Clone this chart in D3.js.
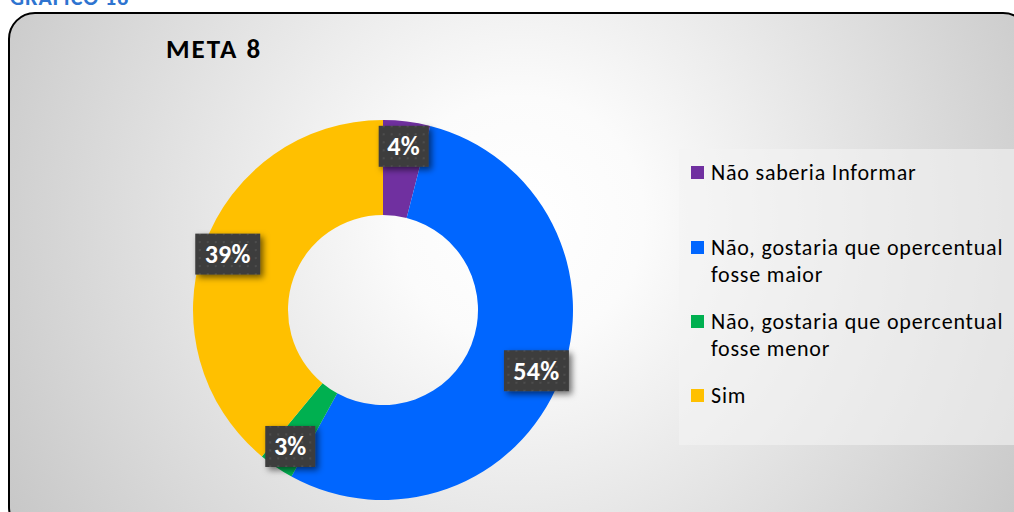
<!DOCTYPE html>
<html><head><meta charset="utf-8">
<script src="https://cdn.jsdelivr.net/npm/d3@7"></script>
<style>body{margin:0;background:#fff;}svg{display:block;}</style>
</head><body>
<svg id="c" width="1014" height="512"></svg>
<script>
const categories = ["Não saberia Informar", "Não, gostaria que opercentual fosse maior", "Não, gostaria que opercentual fosse menor", "Sim"];
const values = [4, 54, 3, 39];
const colors = ["#7030a0", "#0066ff", "#00b050", "#ffc000"];
const legendLines = [["Não saberia Informar"], ["Não, gostaria que opercentual", "fosse maior"], ["Não, gostaria que opercentual", "fosse menor"], ["Sim"]];
const title = "META 8";
const caption = "GRÁFICO 18";

const FONT = "Carlito, Calibri, Lato, 'Open Sans', sans-serif";
const svg = d3.select("#c");
const defs = svg.append("defs");

const rg = defs.append("radialGradient").attr("id", "bg").attr("gradientUnits", "userSpaceOnUse")
  .attr("cx", 520).attr("cy", 220).attr("r", 620);
rg.append("stop").attr("offset", "0").attr("stop-color", "#ffffff");
rg.append("stop").attr("offset", "0.2").attr("stop-color", "#fbfbfb");
rg.append("stop").attr("offset", "1").attr("stop-color", "#c4c4c4");

const sh = defs.append("filter").attr("id", "sh").attr("x", "-30%").attr("y", "-30%").attr("width", "170%").attr("height", "170%");
sh.append("feDropShadow").attr("dx", 3).attr("dy", 3).attr("stdDeviation", 3).attr("flood-color", "#000").attr("flood-opacity", 0.55);

const pat = defs.append("pattern").attr("id", "dots").attr("patternUnits", "userSpaceOnUse").attr("width", 8).attr("height", 8);
pat.append("rect").attr("width", 8).attr("height", 8).attr("fill", "#3d3d3d");
pat.append("rect").attr("x", 3).attr("y", 3).attr("width", 2).attr("height", 2).attr("fill", "#4e4e4e");

// caption (cut at top, as in the reference)
svg.append("text").attr("x", 10).attr("y", 5).attr("font-family", FONT).attr("font-size", 22)
  .attr("font-weight", "bold").attr("letter-spacing", 1).attr("fill", "#2e74d0").text(caption);

// frame
svg.append("rect").attr("x", 9).attr("y", 13).attr("width", 1020).attr("height", 520).attr("rx", 26)
  .attr("fill", "url(#bg)").attr("stroke", "#000").attr("stroke-width", 2);

// title
svg.append("text").attr("x", 166).attr("y", 58).attr("font-family", FONT).attr("font-size", 27)
  .attr("font-weight", "bold").attr("letter-spacing", 2).attr("fill", "#000").text(title);

// donut
const cx = 383, cy = 310, R = 190, r0 = 95;
const pie = d3.pie().sort(null).value(d => d)(values);
const arc = d3.arc().innerRadius(r0).outerRadius(R);
const labelArc = d3.arc().innerRadius(165).outerRadius(165);
const g = svg.append("g").attr("transform", `translate(${cx},${cy})`);
g.selectAll("path").data(pie).join("path").attr("d", arc).attr("fill", (d, i) => colors[i]);

const lg = g.selectAll("g.lab").data(pie).join("g").attr("class", "lab")
  .attr("transform", d => { const c = labelArc.centroid(d); return `translate(${c[0]},${c[1]})`; });
lg.each(function(d) {
  const s = d3.select(this);
  const txt = d.data + "%";
  const w = txt.length === 2 ? 50 : 65, h = 41;
  s.append("rect").attr("x", -w / 2).attr("y", -h / 2).attr("width", w).attr("height", h)
    .attr("fill", "url(#dots)").attr("filter", "url(#sh)");
  s.append("text").attr("text-anchor", "middle").attr("y", 9).attr("font-family", FONT)
    .attr("font-size", 26).attr("font-weight", "bold").attr("letter-spacing", 0.3).attr("fill", "#fff").text(txt);
});

// legend
svg.append("rect").attr("x", 679).attr("y", 149).attr("width", 340).attr("height", 296)
  .attr("fill", "#f4f4f4").attr("fill-opacity", 0.6);
const itemY = [172, 247, 321, 395];
const leg = svg.append("g");
categories.forEach((c, i) => {
  leg.append("rect").attr("x", 691).attr("y", itemY[i] - 6).attr("width", 13).attr("height", 13).attr("fill", colors[i]);
  const t = leg.append("text").attr("font-family", FONT).attr("font-size", 22).attr("letter-spacing", 0.8).attr("fill", "#000");
  legendLines[i].forEach((ln, j) => {
    t.append("tspan").attr("x", 711).attr("y", itemY[i] + 8 + j * 27).text(ln);
  });
});
</script>
</body></html>
